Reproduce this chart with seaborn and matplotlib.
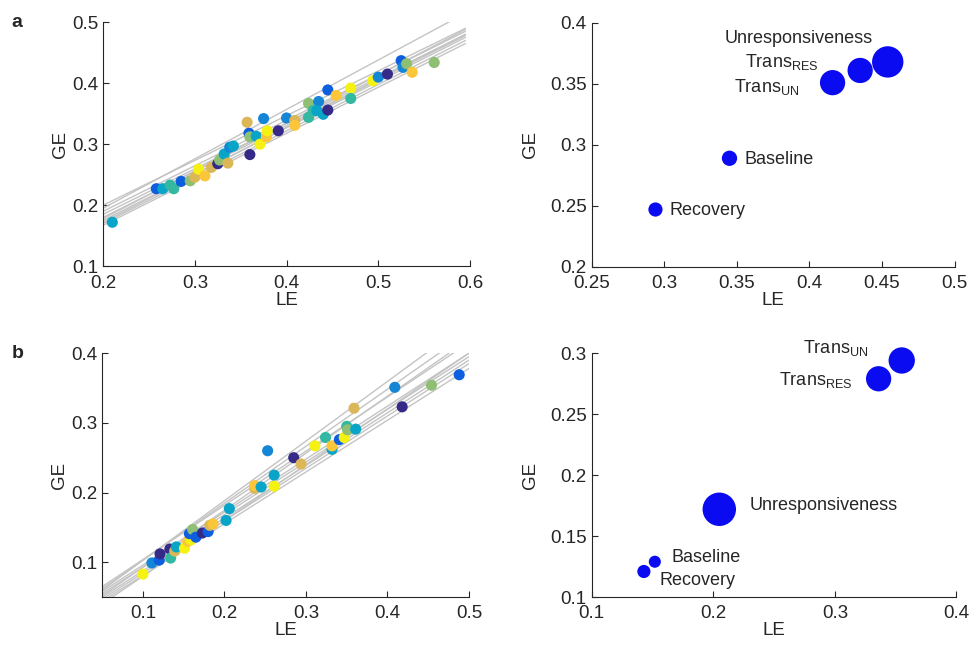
import matplotlib
matplotlib.use('Agg')
import matplotlib.pyplot as plt
import matplotlib.ticker as mticker
import numpy as np
import pandas as pd
import seaborn as sns

# ---- panel a, left: individual LE/GE points (subject index -> colour)
a_le = [0.210, 0.258, 0.265, 0.273, 0.277, 0.285, 0.295, 0.300, 0.304, 0.311,
        0.318, 0.325, 0.327, 0.332, 0.336, 0.338, 0.342, 0.357, 0.359, 0.360,
        0.360, 0.367, 0.371, 0.375, 0.378, 0.379, 0.391, 0.400, 0.409, 0.409,
        0.424, 0.424, 0.429, 0.435, 0.433, 0.440, 0.445, 0.445, 0.454, 0.470,
        0.470, 0.494, 0.500, 0.510, 0.525, 0.527, 0.531, 0.537, 0.561]
a_ge = [0.172, 0.227, 0.227, 0.233, 0.227, 0.239, 0.240, 0.246, 0.259, 0.248,
        0.262, 0.268, 0.274, 0.284, 0.269, 0.295, 0.297, 0.336, 0.318, 0.312,
        0.283, 0.313, 0.300, 0.342, 0.312, 0.322, 0.322, 0.343, 0.339, 0.331,
        0.367, 0.344, 0.355, 0.370, 0.355, 0.349, 0.389, 0.356, 0.380, 0.392,
        0.375, 0.404, 0.410, 0.415, 0.437, 0.426, 0.432, 0.418, 0.434]
a_subj = [3, 1, 3, 4, 4, 1, 5, 6, 8, 7,
          6, 0, 5, 3, 6, 2, 3, 6, 1, 5,
          0, 3, 8, 2, 7, 8, 0, 2, 6, 7,
          5, 4, 4, 2, 3, 3, 1, 0, 7, 8,
          4, 8, 2, 0, 1, 2, 5, 7, 5]
# subject fit lines: GE at left / right end of x range
a_line_x = [0.2, 0.595]
a_line_y0 = [0.195, 0.200, 0.190, 0.185, 0.180, 0.175, 0.170, 0.167, 0.178, 0.172]
a_line_y1 = [0.515, 0.490, 0.485, 0.480, 0.478, 0.475, 0.470, 0.465, 0.488, 0.480]

# ---- panel b, left
b_le = [0.100, 0.111, 0.120, 0.121, 0.133, 0.134, 0.139, 0.141, 0.151, 0.155,
        0.159, 0.157, 0.161, 0.165, 0.173, 0.180, 0.182, 0.186, 0.202, 0.206,
        0.237, 0.237, 0.245, 0.253, 0.261, 0.261, 0.285, 0.294, 0.311, 0.324,
        0.332, 0.332, 0.341, 0.347, 0.350, 0.351, 0.359, 0.361, 0.409, 0.418,
        0.454, 0.488]
b_ge = [0.083, 0.099, 0.103, 0.112, 0.119, 0.106, 0.116, 0.122, 0.120, 0.130,
        0.132, 0.141, 0.147, 0.136, 0.142, 0.144, 0.153, 0.155, 0.160, 0.177,
        0.206, 0.210, 0.208, 0.260, 0.225, 0.209, 0.250, 0.241, 0.267, 0.279,
        0.262, 0.267, 0.276, 0.279, 0.295, 0.290, 0.321, 0.291, 0.351, 0.323,
        0.354, 0.369]
b_subj = [8, 2, 1, 0, 0, 4, 6, 3, 8, 7,
          8, 1, 5, 1, 0, 1, 6, 7, 3, 3,
          6, 7, 3, 2, 3, 8, 0, 6, 8, 4,
          3, 7, 1, 8, 4, 5, 6, 3, 2, 0,
          5, 1]
b_line_x = [0.05, 0.5]
b_line_y0 = [0.065, 0.062, 0.060, 0.058, 0.055, 0.052, 0.050, 0.047, 0.044, 0.040]
b_line_y1 = [0.415, 0.430, 0.445, 0.400, 0.395, 0.420, 0.390, 0.385, 0.378, 0.400]

# ---- right panels: condition means
states = ['Baseline', 'Trans$_{\\mathregular{UN}}$', 'Unresponsiveness',
          'Trans$_{\\mathregular{RES}}$', 'Recovery']
a_mean_le = [0.345, 0.416, 0.454, 0.435, 0.294]
a_mean_ge = [0.289, 0.351, 0.368, 0.361, 0.247]
a_weight = [0.21, 0.57, 0.88, 0.57, 0.18]
b_mean_le = [0.152, 0.355, 0.205, 0.336, 0.143]
b_mean_ge = [0.129, 0.294, 0.172, 0.279, 0.121]
b_weight = [0.13, 0.62, 1.00, 0.57, 0.155]

parula = ['#352a87', '#0d5fe0', '#1585d6', '#08a5c8', '#33b8a1',
          '#8fbf72', '#dcb758', '#fcc63a', '#f5f212']

sns.set_style('ticks')
plt.rcParams['font.family'] = ['Liberation Sans', 'DejaVu Sans']
plt.rcParams['mathtext.fontset'] = 'custom'
plt.rcParams['mathtext.rm'] = 'Liberation Sans'
plt.rcParams['xtick.direction'] = 'in'
plt.rcParams['ytick.direction'] = 'in'

fig = plt.figure(figsize=(9.73, 6.54), dpi=100)
ax_a = fig.add_axes([0.106, 0.593, 0.377, 0.373])
ax_ar = fig.add_axes([0.608, 0.592, 0.373, 0.373])
ax_b = fig.add_axes([0.105, 0.087, 0.377, 0.373])
ax_br = fig.add_axes([0.608, 0.087, 0.375, 0.373])

fmt = mticker.FuncFormatter(lambda v, p: '%g' % round(v, 3))


def style(ax, xlim, ylim, xt, yt, ypad):
    ax.set_xlim(*xlim)
    ax.set_ylim(*ylim)
    ax.set_xticks(xt)
    ax.set_yticks(yt)
    ax.xaxis.set_major_formatter(fmt)
    ax.yaxis.set_major_formatter(fmt)
    ax.set_xlabel('LE', fontsize=13.5, color='#262626', labelpad=0)
    ax.set_ylabel('GE', fontsize=13.5, color='#262626', labelpad=ypad)
    ax.tick_params(labelsize=13.5, colors='#262626', length=4, width=0.8)
    ax.tick_params(axis='x', pad=6)
    for s in ['left', 'bottom']:
        ax.spines[s].set_color('#262626')
        ax.spines[s].set_linewidth(0.8)
    sns.despine(ax=ax)


def left_panel(ax, le, ge, subj, lx, y0, y1):
    for s0, s1 in zip(y0, y1):
        ax.plot(lx, [s0, s1], color='#c4c4c4', lw=1, zorder=1)
    df = pd.DataFrame({'LE': le, 'GE': ge, 'subj': subj})
    sns.scatterplot(data=df, x='LE', y='GE', hue='subj', palette=parula,
                    hue_order=list(range(9)), s=64, linewidth=0,
                    legend=False, ax=ax, zorder=2)


def right_panel(ax, le, ge, w, offsets):
    df = pd.DataFrame({'LE': le, 'GE': ge, 'w': w, 'state': states})
    sns.scatterplot(data=df, x='LE', y='GE', size='w', sizes=(0, 580),
                    size_norm=(0, 1), color='#0b0bf2', linewidth=0,
                    legend=False, ax=ax, clip_on=False)
    for i, (dx, dy, ha) in enumerate(offsets):
        ax.annotate(states[i], (le[i], ge[i]), xytext=(dx, dy),
                    textcoords='offset points', ha=ha, va='center',
                    fontsize=13, color='#262626')


left_panel(ax_a, a_le, a_ge, a_subj, a_line_x, a_line_y0, a_line_y1)
style(ax_a, (0.2, 0.6), (0.1, 0.5), np.arange(0.2, 0.61, 0.1),
      np.arange(0.1, 0.51, 0.1), 2)

left_panel(ax_b, b_le, b_ge, b_subj, b_line_x, b_line_y0, b_line_y1)
style(ax_b, (0.05, 0.5), (0.05, 0.4), np.arange(0.1, 0.51, 0.1),
      np.arange(0.1, 0.41, 0.1), 2)

right_panel(ax_ar, a_mean_le, a_mean_ge, a_weight,
            [(11, -1, 'left'), (-24, -3, 'right'), (-64, 17, 'center'),
             (-30, 6, 'right'), (10, -1, 'left')])
style(ax_ar, (0.25, 0.5), (0.2, 0.4), np.arange(0.25, 0.51, 0.05),
      np.arange(0.2, 0.41, 0.05), 8)

right_panel(ax_br, b_mean_le, b_mean_ge, b_weight,
            [(12, 3, 'left'), (-24, 9, 'right'), (22, 3, 'left'),
             (-19, -1, 'right'), (11, -6.5, 'left')])
style(ax_br, (0.1, 0.4), (0.1, 0.3), np.arange(0.1, 0.41, 0.1),
      np.arange(0.1, 0.31, 0.05), 8)

fig.text(0.012, 0.966, 'a', fontsize=14, fontweight='bold', va='center')
fig.text(0.012, 0.46, 'b', fontsize=14, fontweight='bold', va='center')

fig.savefig('out.png', dpi=100)
